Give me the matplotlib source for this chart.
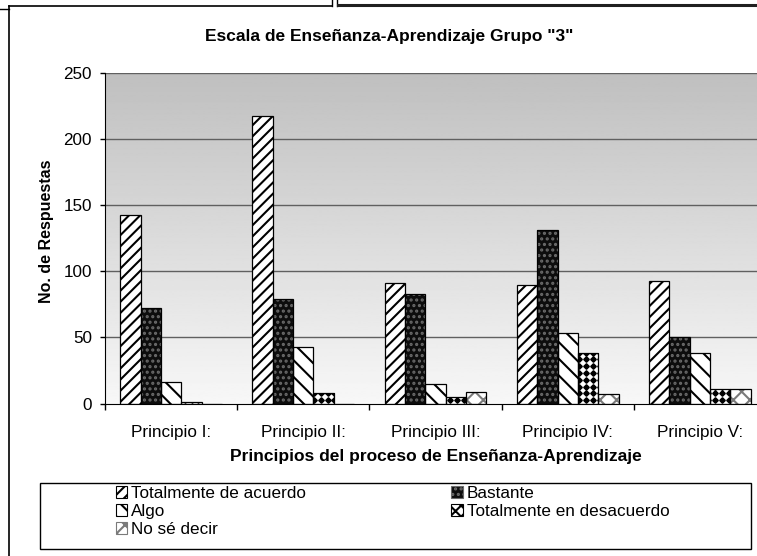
import numpy as np
import matplotlib
matplotlib.use('Agg')
import matplotlib.pyplot as plt
from matplotlib.patches import Patch, Rectangle
from matplotlib.lines import Line2D

# datos
categories = ['Principio I:', 'Principio II:', 'Principio III:', 'Principio IV:', 'Principio V:']
series_names = ['Totalmente de acuerdo', 'Bastante', 'Algo', 'Totalmente en desacuerdo', 'No sé decir']
totalmente_acuerdo = [143, 218, 91, 90, 93]
bastante = [72, 79, 83, 131, 50]
algo = [16, 43, 15, 53, 38]
totalmente_desacuerdo = [1, 8, 5, 38, 11]
no_se_decir = [0, 0, 9, 7, 11]
y_ticks = [0, 50, 100, 150, 200, 250]

values = [totalmente_acuerdo, bastante, algo, totalmente_desacuerdo, no_se_decir]

plt.rcParams['font.family'] = ['Liberation Sans', 'DejaVu Sans']
plt.rcParams['hatch.linewidth'] = 1.5

W, H = 757, 556
fig = plt.figure(figsize=(W / 100, H / 100), dpi=100)
fig.patch.set_facecolor('white')

# area del grafico (en pixeles de la imagen original)
ax_left, ax_bottom, ax_w, ax_h = 105, 403.5, 661, 330.2
ax = fig.add_axes([ax_left / W, 1 - ax_bottom / H, ax_w / W, ax_h / H])

n = len(categories)
ax.set_xlim(-0.5, n - 0.5)
ax.set_ylim(0, 250)

# fondo degradado gris -> blanco
grad = np.linspace(0.97, 0.75, 256)[:, None]
ax.imshow(grad, extent=[-0.5, n - 0.5, 0, 250], origin='lower', aspect='auto',
          cmap='gray', vmin=0, vmax=1, zorder=0)

for t in y_ticks[1:]:
    ax.axhline(t, color='#606060', lw=1, zorder=1)

styles = [
    dict(face='white', hatch='///', hcolor='black'),
    dict(face='#0d0d0d', hatch='...', hcolor='#6a6a6a'),
    dict(face='white', hatch='\\\\', hcolor='black'),
    dict(face='white', hatch=None, hcolor='black'),
    dict(face='white', hatch='xx', hcolor='#7a7a7a'),
]

bw = 1 / 6.5
x = np.arange(n)
for j, (vals, st) in enumerate(zip(values, styles)):
    xs = x + (j - 2) * bw
    ax.bar(xs, vals, bw, color=st['face'], hatch=st['hatch'], edgecolor=st['hcolor'],
           linewidth=0, zorder=3)
    ax.bar(xs, vals, bw, fill=False, edgecolor='black', linewidth=0.9, zorder=5)

# rombos para "Totalmente en desacuerdo"
px_x = ax_w / n
px_y = ax_h / 250
step = 6.8
dx = step / px_x
dy = step / px_y
for xc, h in zip(x + bw, totalmente_desacuerdo):
    if h <= 0:
        continue
    clip = Rectangle((xc - bw / 2, 0), bw, h, transform=ax.transData)
    gx = np.arange(np.floor((xc - bw) / dx), np.ceil((xc + bw) / dx) + 1) * dx
    gy = np.arange(0, h + dy, dy) + dy / 2
    X, Y = np.meshgrid(gx, gy)
    ln, = ax.plot(X.ravel(), Y.ravel(), ls='none', marker='D', ms=2.8,
                  color='black', zorder=4)
    ln.set_clip_path(clip)

for s in ['top', 'right']:
    ax.spines[s].set_visible(False)
ax.spines['left'].set_zorder(6)
ax.spines['bottom'].set_zorder(6)

ax.set_yticks(y_ticks)
ax.tick_params(axis='y', length=3.6, pad=5.8, labelsize=12.3, width=1)
ax.set_xticks(np.arange(-0.5, n, 1.0))
ax.set_xticklabels([])
ax.set_xticks(x, minor=True)
ax.set_xticklabels(categories, minor=True)
ax.tick_params(axis='x', which='major', length=4.3, width=1)
ax.tick_params(axis='x', which='minor', length=0, pad=15.5, labelsize=12.3)

ax.set_xlabel('Principios del proceso de Enseñanza-Aprendizaje', fontsize=12.5,
              fontweight='bold')
ax.xaxis.set_label_coords(0.5, -(449 - ax_bottom) / ax_h)
ax.set_ylabel('No. de Respuestas', fontsize=11.5, fontweight='bold')
ax.yaxis.set_label_coords((54 - ax_left) / ax_w, 0.522)

fig.text(389 / W, 1 - 37 / H, 'Escala de Enseñanza-Aprendizaje Grupo "3"',
         ha='center', va='center', fontsize=12.5, fontweight='bold')

# leyenda
handles = []
for st in styles:
    if st['hatch'] is None:
        handles.append(Patch(facecolor='white', hatch='xxx', edgecolor='black', lw=0.8))
    else:
        handles.append(Patch(facecolor=st['face'], hatch=st['hatch'],
                             edgecolor=st['hcolor'], lw=0.8))
order = [0, 2, 4, 1, 3]
fig.legend([handles[i] for i in order], [series_names[i] for i in order],
           loc='upper left', bbox_to_anchor=(116 / W, 1 - 486 / H),
           ncol=2, frameon=False, fontsize=12.3, borderpad=0, borderaxespad=0,
           handlelength=0.65, handleheight=0.65, handletextpad=0.25,
           columnspacing=8.5, labelspacing=0.18)
fig.add_artist(Rectangle((40 / W, 1 - 549 / H), 711 / W, 66 / H, transform=fig.transFigure,
                         fill=False, edgecolor='black', lw=1))

# marcos del documento
def fig_line(x0, y0, x1, y1, **kw):
    fig.add_artist(Line2D([x0 / W, x1 / W], [1 - y0 / H, 1 - y1 / H],
                          transform=fig.transFigure, **kw))

fig_line(9, 5.5, 332, 5.5, color='black', lw=1.2)
fig_line(9, 5.5, 9, 556, color='black', lw=1.2)
fig_line(0, 9, 9, 9, color='black', lw=1)
fig_line(332, 0, 332, 6, color='black', lw=1)
fig_line(337, 0, 337, 6, color='black', lw=1)
fig_line(338, 4.5, 757, 4.5, color='#202020', lw=2.2)

fig.savefig('out.png', dpi=100)
